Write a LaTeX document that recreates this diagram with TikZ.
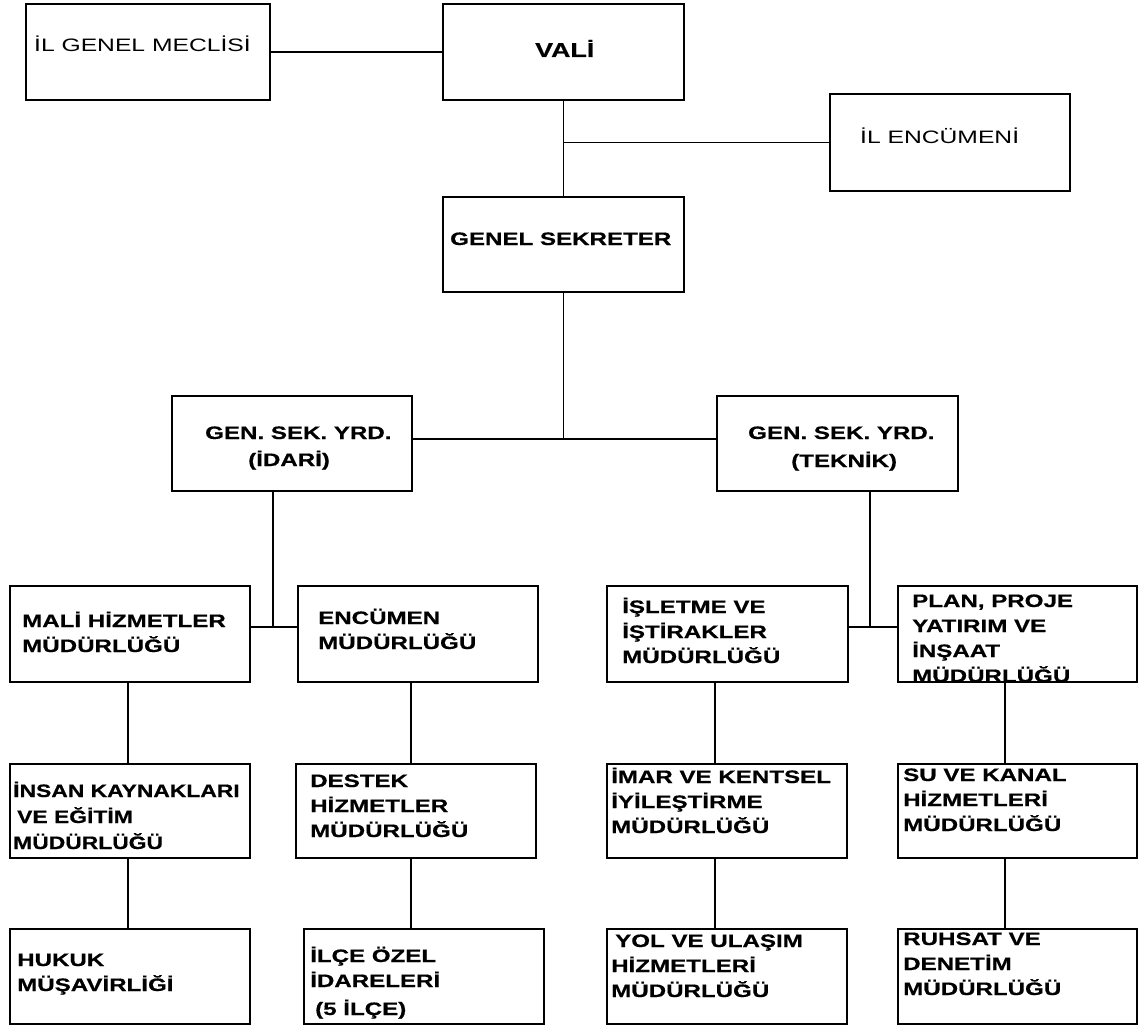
\documentclass[tikz,border=0pt]{standalone}
\usepackage{fontspec}
\setmainfont{Liberation Sans}
\newfontfamily\bw[FakeStretch=1.34,FakeBold=0.6]{Liberation Sans}
\newfontfamily\bn[FakeStretch=1.27,FakeBold=0.6]{Liberation Sans}
\newfontfamily\rw[FakeStretch=1.37]{Liberation Sans}
\usetikzlibrary{calc}
\begin{document}
\begin{tikzpicture}[x=1pt,y=-1pt,
  box/.style={draw, line width=1.6pt, inner sep=0pt, anchor=north west},
  lbl/.style={anchor=base west, align=left, inner sep=0pt, font=\bw\bfseries\fontsize{18}{25}\selectfont},
  lbln/.style={anchor=base west, align=left, inner sep=0pt, font=\bn\bfseries\fontsize{18}{26}\selectfont},
  lblr/.style={anchor=base west, align=left, inner sep=0pt, font=\rw\fontsize{18}{25}\selectfont},
  conn/.style={line width=1.6pt}]
\useasboundingbox[fill=white] (0,0) rectangle (1138,1025);

% boxes
\node[box, minimum width=244pt, minimum height=96pt] (igm) at (25,3) {};
\node[box, minimum width=241pt, minimum height=96pt] (vali) at (442,3) {};
\node[box, minimum width=240pt, minimum height=97pt] (ilenc) at (829,93) {};
\node[box, minimum width=241pt, minimum height=95pt] (gs) at (442,196) {};
\node[box, minimum width=240pt, minimum height=95pt] (idari) at (171,395) {};
\node[box, minimum width=241pt, minimum height=95pt] (teknik) at (716,395) {};
\node[box, minimum width=240pt, minimum height=96pt] (mali) at (9,585) {};
\node[box, minimum width=240pt, minimum height=96pt] (enc) at (297,585) {};
\node[box, minimum width=241pt, minimum height=96pt] (islet) at (606,585) {};
\node[box, minimum width=239pt, minimum height=96pt] (plan) at (897,585) {};
\node[box, minimum width=240pt, minimum height=94pt] (insan) at (9,763) {};
\node[box, minimum width=240pt, minimum height=94pt] (destek) at (295,763) {};
\node[box, minimum width=240pt, minimum height=94pt] (imar) at (606,763) {};
\node[box, minimum width=239pt, minimum height=94pt] (su) at (897,763) {};
\node[box, minimum width=240pt, minimum height=95pt] (hukuk) at (9,928) {};
\node[box, minimum width=240pt, minimum height=95pt] (ilce) at (303,928) {};
\node[box, minimum width=240pt, minimum height=95pt] (yol) at (606,928) {};
\node[box, minimum width=239pt, minimum height=95pt] (ruhsat) at (897,928) {};

% texts (anchor = baseline of the last line)
\node[lblr] (t-igm) at (34,52) {İL GENEL MECLİSİ};
\node[lbl, font=\bw\bfseries\fontsize{20}{25}\selectfont] (t-vali) at (535,57) {VALİ};
\node[lblr] (t-ilenc) at (860,143) {İL ENCÜMENİ};
\node[lbl] (t-gs) at (450,245) {GENEL SEKRETER};
\node[lbl] (t-idari) at (205,466) {GEN. SEK. YRD.\\[2pt]\hspace*{43pt}(İDARİ)};
\node[lbl] (t-teknik) at (748,467) {GEN. SEK. YRD.\\[3pt]\hspace*{43pt}(TEKNİK)};
\node[lbl] (t-mali) at (22,652) {MALİ HİZMETLER\\MÜDÜRLÜĞÜ};
\node[lbl] (t-enc) at (318,649) {ENCÜMEN\\MÜDÜRLÜĞÜ};
\node[lbl] (t-islet) at (622,663) {İŞLETME VE\\İŞTİRAKLER\\MÜDÜRLÜĞÜ};
\node[lbl] (t-plan) at (912,682) {PLAN, PROJE\\YATIRIM VE\\İNŞAAT\\MÜDÜRLÜĞÜ};
\node[lbln] (t-insan) at (13,849) {İNSAN KAYNAKLARI\\\hspace*{4pt}VE EĞİTİM\\MÜDÜRLÜĞÜ};
\node[lbl] (t-destek) at (310,837) {DESTEK\\HİZMETLER\\MÜDÜRLÜĞÜ};
\node[lbl] (t-hukuk) at (17,991) {HUKUK\\MÜŞAVİRLİĞİ};
\node[lbl] (t-ilce) at (310,1015) {İLÇE ÖZEL\\İDARELERİ\\[3pt]\hspace*{5pt}(5 İLÇE)};
\node[lbl] (t-imar) at (611,833) {İMAR VE KENTSEL\\İYİLEŞTİRME\\MÜDÜRLÜĞÜ};
\node[lbl] (t-su) at (903,831) {SU VE KANAL\\HİZMETLERİ\\MÜDÜRLÜĞÜ};
\node[lbl] (t-yol) at (611,997) {\hspace*{4pt}YOL VE ULAŞIM\\HİZMETLERİ\\MÜDÜRLÜĞÜ};
\node[lbl] (t-ruhsat) at (903,995) {RUHSAT VE\\DENETİM\\MÜDÜRLÜĞÜ};

% junctions
\coordinate (j0) at (563,439);
\coordinate (j1) at (273,627);
\coordinate (j2) at (870,627);
\coordinate (x1) at (128,0);
\coordinate (x2) at (411,0);
\coordinate (x3) at (715,0);
\coordinate (x4) at (1005,0);

% connectors
\draw[conn] (igm.east) -- (vali.west);
\draw[conn] (vali.south) -- (gs.north);
\draw[conn] (ilenc.west) -- (ilenc.west -| vali.south);
\draw[conn] (gs.south) -- (gs.south |- j0);
\draw[conn] (idari.east |- j0) -- (teknik.west |- j0);
\draw[conn] (idari.south -| j1) -- (j1);
\draw[conn] (mali.east |- j1) -- (enc.west |- j1);
\draw[conn] (teknik.south -| j2) -- (j2);
\draw[conn] (islet.east |- j2) -- (plan.west |- j2);
\draw[conn] (mali.south -| x1) -- (insan.north -| x1);
\draw[conn] (insan.south -| x1) -- (hukuk.north -| x1);
\draw[conn] (enc.south -| x2) -- (destek.north -| x2);
\draw[conn] (destek.south -| x2) -- (ilce.north -| x2);
\draw[conn] (islet.south -| x3) -- (imar.north -| x3);
\draw[conn] (imar.south -| x3) -- (yol.north -| x3);
\draw[conn] (plan.south -| x4) -- (su.north -| x4);
\draw[conn] (su.south -| x4) -- (ruhsat.north -| x4);
\end{tikzpicture}
\end{document}
